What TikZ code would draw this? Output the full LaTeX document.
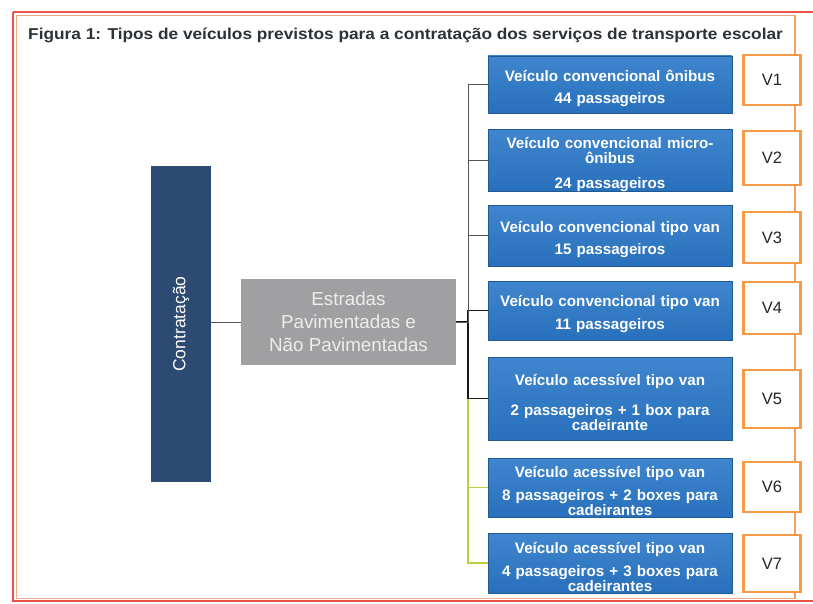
\documentclass[tikz,border=0pt]{standalone}
\usepackage{fontspec}
\setmainfont{Liberation Sans}
\definecolor{navybox}{RGB}{44,74,114}
\definecolor{graybox}{RGB}{160,160,163}
\definecolor{blueA}{RGB}{64,134,206}
\definecolor{blueB}{RGB}{40,112,188}
\definecolor{vorange}{RGB}{247,154,72}
\definecolor{framered}{RGB}{236,82,72}
\definecolor{framesalmon}{RGB}{242,168,140}
\definecolor{titlegray}{RGB}{45,50,56}
\definecolor{linkgreen}{RGB}{190,206,64}
\definecolor{linkgray}{RGB}{85,85,85}
\newcommand\tpstrt{\rule{0pt}{19pt}}
\tikzset{
  bluebox/.style={rectangle, top color=blueA, bottom color=blueB, draw=blueB!80!black, line width=0.4pt,
    minimum width=244, text width=242, align=center, inner sep=0pt, text=white,
    font=\fontsize{15.2}{15}\selectfont\bfseries},
  vbox/.style={rectangle, draw=vorange, line width=2.2pt, fill=white, minimum width=57, inner sep=0pt,
    text=black!85, font=\fontsize{16.5}{18}\selectfont},
  thinlink/.style={draw=linkgray, line width=0.8pt},
  blacklink/.style={draw=black!90, line width=1.6pt},
  greenlink/.style={draw=linkgreen, line width=1.6pt}
}
\begin{document}
\begin{tikzpicture}[x=1pt,y=-1pt]
\useasboundingbox (0,0) rectangle (813,604);
\clip (0,0) rectangle (813,604);
\fill[white] (0,0) rectangle (813,604);
% frames
\draw[framesalmon, line width=1pt] (16,15.5) -- (795,15.5);
\draw[framesalmon, line width=1pt] (16,15.5) -- (16,598.5) -- (795,598.5);
\draw[vorange!75!framesalmon, line width=1.2pt] (795,15.5) -- (795,598.5);
\draw[framered, line width=1.8pt] (13,12) -- (830,12);
\draw[framered, line width=1.8pt] (13,12) -- (13,601) -- (830,601);
% title
\node[anchor=base west, inner sep=0pt, text=titlegray, font=\fontsize{15.7}{18}\selectfont\bfseries] (title) at (28,40)
  {\scalebox{1.1}[1]{Figura 1: Tipos de veículos previstos para a contratação dos serviços de transporte escolar}};
% left nodes
\node[rectangle, fill=navybox, rotate=90, minimum width=316, minimum height=60, inner sep=0pt,
  text=white, font=\fontsize{17.5}{18}\selectfont] (ctr) at (181,324) {Contratação};
\node[rectangle, fill=graybox, minimum width=215, minimum height=86, inner sep=0pt, align=center,
  text=white!93!black, font=\fontsize{18.8}{23}\selectfont] (est) at (348.5,322) {Estradas\\Pavimentadas e\\Não Pavimentadas};
% blue boxes
\node[bluebox, minimum height=57] (b1) at (610,84.5) {\tpstrt Veículo convencional ônibus\\[7pt]44 passageiros};
\node[bluebox, minimum height=59] (b2) at (610,160.5) {\tpstrt Veículo convencional micro-\\ônibus\\[10pt]24 passageiros};
\node[bluebox, minimum height=61] (b3) at (610,235.5) {\tpstrt Veículo convencional tipo van\\[7pt]15 passageiros};
\node[bluebox, minimum height=59] (b4) at (610,310.5) {\tpstrt Veículo convencional tipo van\\[8pt]11 passageiros};
\node[bluebox, minimum height=83] (b5) at (610,398.5) {\tpstrt Veículo acessível tipo van\\[15pt]2 passageiros + 1 box para\\cadeirante};
\node[bluebox, minimum height=59] (b6) at (610,487.5) {\tpstrt Veículo acessível tipo van\\[8pt]8 passageiros + 2 boxes para\\cadeirantes};
\node[bluebox, minimum height=60] (b7) at (610,563) {\tpstrt Veículo acessível tipo van\\[8pt]4 passageiros + 3 boxes para\\cadeirantes};
% V boxes
\node[vbox, minimum height=50] (v1) at (772,80) {V1};
\node[vbox, minimum height=54] (v2) at (772,158) {V2};
\node[vbox, minimum height=51] (v3) at (772,237.5) {V3};
\node[vbox, minimum height=52] (v4) at (772,308) {V4};
\node[vbox, minimum height=58] (v5) at (772,399) {V5};
\node[vbox, minimum height=50] (v6) at (772,487) {V6};
\node[vbox, minimum height=57] (v7) at (772,563.5) {V7};
% connectors
\coordinate (trunk) at (468,322);
\draw[linkgray, line width=0.9pt] (ctr.south |- est.west) -- (est.west);
\draw[greenlink] (est.east) -- (trunk) |- (b6.west);
\draw[greenlink] (est.east) -- (trunk) |- (b7.west);
\draw[blacklink] (est.east) -- (trunk) |- (b4.west);
\draw[blacklink] (est.east) -- (trunk) |- (b5.west);
\draw[thinlink] (est.east) -- (trunk) |- (b1.west);
\draw[thinlink] (est.east) -- (trunk) |- (b2.west);
\draw[thinlink] (est.east) -- (trunk) |- (b3.west);
\end{tikzpicture}
\end{document}
